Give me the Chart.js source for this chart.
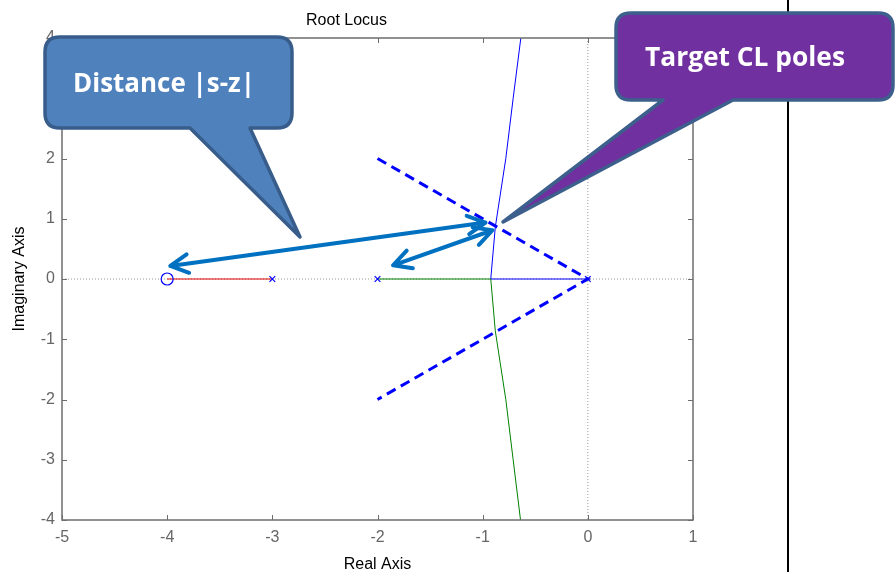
<!doctype html>
<html lang="en">
  <head>
    <meta charset="utf-8">
    <title>Root Locus</title>
    <style>
      * {
        margin: 0;
        padding: 0;
      }
      body {
        background: white;
      }
      .chartBox {
        position: relative;
        width: 895px;
        height: 572px;
      }
    </style>
  </head>
  <body>
    <div class="chartBox">
      <canvas id="myChart"></canvas>
    </div>
    <script src="https://cdn.jsdelivr.net/npm/chart.js/dist/chart.umd.min.js"></script>
    <script>
    // setup - values
    const xTicks = [-5, -4, -3, -2, -1, 0, 1];
    const yTicks = [-4, -3, -2, -1, 0, 1, 2, 3, 4];
    const zeros = [-4];
    const poles = [-3, -2, 0];

    // branches as [real, imag]
    const redBranch = [[-4, 0], [-3, 0]];
    const greenBranch = [[-2, 0], [-0.923, 0], [-0.88, -0.86], [-0.78, -2.0], [-0.71, -3.0], [-0.64, -4]];
    const blueBranch = [[0, 0], [-0.923, 0], [-0.88, 0.86], [-0.78, 2.0], [-0.71, 3.0], [-0.637, 4]];
    const dampingLines = [[-2, 2], [0, 0], [-2, -2]];

    // double headed "distance" arrows, [from, to]
    const distArrows = [
      [[-3.97, 0.216], [-0.973, 0.937]],
      [[-1.852, 0.228], [-0.907, 0.809]]
    ];

    const pts = (arr) => arr.map(p => ({ x: p[0], y: p[1] }));
    const axisFont = { family: 'Liberation Sans, Arial, sans-serif', size: 16 };

    const data = {
      datasets: [
        {
          label: 'zero',
          data: zeros.map(z => ({ x: z, y: 0 })),
          pointStyle: 'circle',
          pointRadius: 6,
          borderColor: '#0000ff',
          backgroundColor: 'rgba(0,0,0,0)',
          borderWidth: 1.2,
        },
        {
          label: 'poles',
          data: poles.map(p => ({ x: p, y: 0 })),
          pointStyle: 'crossRot',
          pointRadius: 4,
          borderColor: '#0000ff',
          borderWidth: 1.2,
        },
        {
          label: 'damping',
          data: pts(dampingLines),
          showLine: true,
          pointRadius: 0,
          borderColor: '#0000ff',
          borderWidth: 3,
          borderDash: [10, 6],
        },
        {
          label: 'red',
          data: pts(redBranch),
          showLine: true,
          pointRadius: 0,
          borderColor: '#e00000',
          borderWidth: 1,
        },
        {
          label: 'green',
          data: pts(greenBranch),
          showLine: true,
          pointRadius: 0,
          borderColor: '#008000',
          borderWidth: 1,
        },
        {
          label: 'blue',
          data: pts(blueBranch),
          showLine: true,
          pointRadius: 0,
          borderColor: '#0000ff',
          borderWidth: 1,
        },
      ]
    };

    // dotted zero lines behind the data
    const zeroLines = {
      id: 'zeroLines',
      beforeDatasetsDraw(chart) {
        const { ctx, chartArea: { top, bottom, left, right }, scales: { x, y } } = chart;
        ctx.save();
        ctx.strokeStyle = '#9a9a9a';
        ctx.lineWidth = 1;
        ctx.setLineDash([1, 2]);
        ctx.beginPath();
        ctx.moveTo(x.getPixelForValue(0), top);
        ctx.lineTo(x.getPixelForValue(0), bottom);
        ctx.moveTo(left, y.getPixelForValue(0));
        ctx.lineTo(right, y.getPixelForValue(0));
        ctx.stroke();
        ctx.restore();
      }
    };

    // matlab style box with inward ticks
    const axesBox = {
      id: 'axesBox',
      afterDatasetsDraw(chart) {
        const { ctx, chartArea: { top, bottom, left, right }, scales: { x, y } } = chart;
        ctx.save();
        ctx.strokeStyle = '#6e6e6e';
        ctx.lineWidth = 1.5;
        ctx.strokeRect(left, top, right - left, bottom - top);
        ctx.lineWidth = 1;
        ctx.beginPath();
        xTicks.forEach(v => {
          const px = Math.round(x.getPixelForValue(v)) + 0.5;
          ctx.moveTo(px, bottom); ctx.lineTo(px, bottom - 5);
          ctx.moveTo(px, top); ctx.lineTo(px, top + 5);
        });
        yTicks.forEach(v => {
          const py = Math.round(y.getPixelForValue(v)) + 0.5;
          ctx.moveTo(left, py); ctx.lineTo(left + 5, py);
          ctx.moveTo(right, py); ctx.lineTo(right - 5, py);
        });
        ctx.stroke();
        ctx.restore();
      }
    };

    function drawArrowHead(ctx, x0, y0, x1, y1) {
      // head at (x1, y1)
      const ang = Math.atan2(y1 - y0, x1 - x0);
      const len = 20, spread = Math.PI / 6.5;
      ctx.moveTo(x1 - len * Math.cos(ang - spread), y1 - len * Math.sin(ang - spread));
      ctx.lineTo(x1, y1);
      ctx.lineTo(x1 - len * Math.cos(ang + spread), y1 - len * Math.sin(ang + spread));
    }

    // the two |s-z| arrows
    const arrows = {
      id: 'arrows',
      afterDraw(chart) {
        const { ctx, scales: { x, y } } = chart;
        ctx.save();
        ctx.strokeStyle = '#0070c0';
        ctx.lineWidth = 4;
        ctx.lineCap = 'round';
        ctx.lineJoin = 'round';
        distArrows.forEach(a => {
          const x0 = x.getPixelForValue(a[0][0]), y0 = y.getPixelForValue(a[0][1]);
          const x1 = x.getPixelForValue(a[1][0]), y1 = y.getPixelForValue(a[1][1]);
          ctx.beginPath();
          ctx.moveTo(x0, y0);
          ctx.lineTo(x1, y1);
          drawArrowHead(ctx, x0, y0, x1, y1);
          drawArrowHead(ctx, x1, y1, x0, y0);
          ctx.stroke();
        });
        ctx.restore();
      }
    };

    function calloutPath(ctx, l, t, r, b, rad, baseA, baseB, tipX, tipY) {
      // rounded box with a tail coming out of the bottom edge
      ctx.beginPath();
      ctx.moveTo(l + rad, t);
      ctx.lineTo(r - rad, t);
      ctx.quadraticCurveTo(r, t, r, t + rad);
      ctx.lineTo(r, b - rad);
      ctx.quadraticCurveTo(r, b, r - rad, b);
      ctx.lineTo(baseB, b);
      ctx.lineTo(tipX, tipY);
      ctx.lineTo(baseA, b);
      ctx.lineTo(l + rad, b);
      ctx.quadraticCurveTo(l, b, l, b - rad);
      ctx.lineTo(l, t + rad);
      ctx.quadraticCurveTo(l, t, l + rad, t);
      ctx.closePath();
    }

    function fitText(ctx, text, width) {
      ctx.font = 'bold 24px "Open Sans"';
      const size = 24 * width / ctx.measureText(text).width;
      ctx.font = `bold ${size}px "Open Sans"`;
    }

    const callouts = {
      id: 'callouts',
      afterDraw(chart) {
        const { ctx } = chart;
        ctx.save();
        // right hand separator line
        ctx.strokeStyle = '#000';
        ctx.lineWidth = 2;
        ctx.beginPath();
        ctx.moveTo(788, 0);
        ctx.lineTo(788, 572);
        ctx.stroke();

        ctx.lineJoin = 'round';
        ctx.lineWidth = 3.5;
        // Distance |s-z|
        calloutPath(ctx, 45, 37, 292, 128, 15, 190, 250, 300, 237);
        ctx.fillStyle = '#4f81bd';
        ctx.fill();
        ctx.strokeStyle = '#385d8a';
        ctx.stroke();
        // Target CL poles
        calloutPath(ctx, 616, 13, 893, 100, 15, 663, 733, 503, 222);
        ctx.fillStyle = '#7030a0';
        ctx.fill();
        ctx.strokeStyle = '#3c5f8c';
        ctx.stroke();

        ctx.fillStyle = '#ffffff';
        ctx.textAlign = 'center';
        ctx.textBaseline = 'middle';
        fitText(ctx, 'Distance |s-z|', 182);
        ctx.fillText('Distance |s-z|', 164, 85);
        fitText(ctx, 'Target CL poles', 200);
        ctx.fillText('Target CL poles', 745, 58);
        ctx.restore();
      }
    };

    // config
    const config = {
      type: 'scatter',
      data,
      options: {
        animation: false,
        responsive: true,
        maintainAspectRatio: false,
        layout: {
          padding: { left: 0, right: 202, top: 0, bottom: 0 }
        },
        scales: {
          x: {
            type: 'linear',
            min: -5,
            max: 1,
            afterFit: (scale) => { scale.height = 52; },
            afterBuildTicks: (scale) => { scale.ticks = xTicks.map(v => ({ value: v })); },
            grid: { display: false, drawTicks: false },
            border: { display: false },
            ticks: { color: '#666', font: axisFont, padding: 8, maxRotation: 0 },
            title: {
              display: true,
              text: 'Real Axis',
              color: '#000',
              font: axisFont,
              padding: { top: 0, bottom: -2 }
            }
          },
          y: {
            type: 'linear',
            min: -4,
            max: 4,
            afterFit: (scale) => { scale.width = 62; },
            afterBuildTicks: (scale) => { scale.ticks = yTicks.map(v => ({ value: v })); },
            grid: { display: false, drawTicks: false },
            border: { display: false },
            ticks: { color: '#666', font: axisFont, padding: 7 },
            title: {
              display: true,
              text: 'Imaginary Axis',
              color: '#000',
              font: axisFont,
              padding: { top: 10, bottom: 0 }
            }
          }
        },
        plugins: {
          legend: { display: false },
          tooltip: { enabled: false },
          title: {
            display: true,
            text: 'Root Locus',
            color: '#000',
            font: { family: 'Liberation Sans, Arial, sans-serif', size: 16, weight: 'normal' },
            padding: { top: 11.4, bottom: 7.4 }
          }
        }
      },
      plugins: [zeroLines, axesBox, arrows, callouts]
    };

    const myChart = new Chart(document.getElementById('myChart'), config);
    </script>
  </body>
</html>
